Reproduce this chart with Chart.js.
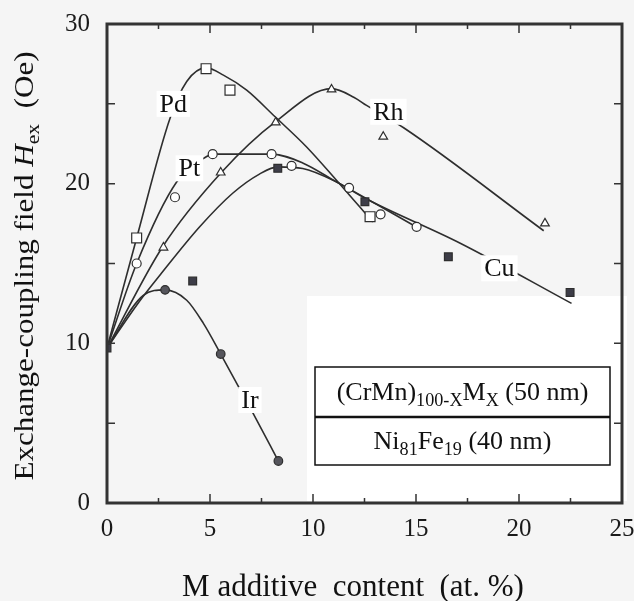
<!DOCTYPE html>
<html><head><meta charset="utf-8">
<script src="https://cdn.jsdelivr.net/npm/chart.js@4"></script>
<style>html,body{margin:0;padding:0;background:#f5f5f5;}</style>
</head><body>
<canvas id="c" width="634" height="601"></canvas>
<script>
// ---- tick data ----
const xTickValues = [0, 5, 10, 15, 20, 25];
const yTickValues = [0, 10, 20, 30];
const xMinorMarks = [2.5, 7.5, 12.5, 17.5, 22.5];
const xMajorMarks = [5, 10, 15, 20];
const yMarks = [5, 10, 15, 20, 25];

// ---- measured points (markers) ----
const pdX = [1.44, 4.81, 5.97, 12.77];
const pdY = [16.6, 27.2, 25.86, 17.93];
const ptX = [1.44, 3.3, 5.13, 7.99, 8.96, 11.75, 13.28, 15.03];
const ptY = [15.0, 19.15, 21.85, 21.85, 21.12, 19.74, 18.08, 17.3];
const rhX = [2.74, 5.52, 8.19, 10.9, 13.41, 21.26];
const rhY = [16.0, 20.7, 23.84, 25.9, 22.94, 17.51];
const cuX = [0, 4.16, 8.29, 12.52, 16.57, 22.48];
const cuY = [9.7, 13.9, 20.96, 18.87, 15.42, 13.19];
const irX = [2.82, 5.52, 8.32];
const irY = [13.35, 9.33, 2.63];

// ---- fitted guide curves ----
const pdCurveX = [0, 1.44, 3.06, 3.87, 4.81, 5.65, 6.78, 8.16, 9.69, 11.15, 12.9];
const pdCurveY = [9.7, 16.6, 24.1, 26.4, 27.25, 26.8, 25.86, 24.19, 22.3, 20.2, 17.6];
const ptCurveX = [0, 1.44, 3.38, 4.84, 5.13, 8.0, 9.5, 11.15, 12.0, 15.0];
const ptCurveY = [9.7, 15.0, 20.1, 21.7, 21.85, 21.85, 21.3, 20.1, 19.5, 17.3];
const rhCurveX = [0, 2.7, 5.55, 8.2, 10.9, 12.0, 12.6, 14.4, 21.2];
const rhCurveY = [9.7, 16.05, 20.7, 23.9, 25.95, 25.4, 24.9, 23.5, 17.05];
const cuCurveX = [0, 1.5, 2.65, 4.5, 6.1, 7.4, 8.3, 9.5, 11.15, 12.5, 17.1, 22.55];
const cuCurveY = [9.7, 12.5, 14.4, 17.3, 19.4, 20.6, 21.05, 20.95, 20.1, 19.1, 16.3, 12.5];
const irCurveX = [0, 1.76, 2.82, 3.87, 4.68, 5.52, 7.1, 8.32];
const irCurveY = [9.7, 13.0, 13.35, 12.7, 11.25, 9.33, 5.6, 2.63];

// ---- series labels ----
const seriesNames = ['Pd', 'Pt', 'Rh', 'Cu', 'Ir'];
const labelX = [3.22, 4.0, 13.66, 19.05, 6.94];
const labelY = [25.0, 20.96, 24.5, 14.7, 6.45];

const pts = (xs, ys) => xs.map((x, i) => ({x, y: ys[i]}));
const INK = '#2e2e2e';
const SERIF = '"Liberation Serif", "DejaVu Serif", serif';

function curve(xs, ys) {
  return {type: 'line', data: pts(xs, ys), borderColor: INK, borderWidth: 1.6,
    pointRadius: 0, cubicInterpolationMode: 'monotone', fill: false, order: 2};
}
function markers(xs, ys, style, r, fillC) {
  return {type: 'scatter', data: pts(xs, ys), pointStyle: style, pointRadius: r,
    pointBackgroundColor: fillC, pointBorderColor: INK, pointBorderWidth: 1.2,
    showLine: false, order: 1};
}

function drawRich(ctx, parts, cx, by, size) {
  let total = 0;
  const m = parts.map(p => {
    const fs = p.sub ? size * 0.7 : size;
    const f = (p.italic ? 'italic ' : '') + fs + 'px ' + SERIF;
    ctx.font = f;
    const w = ctx.measureText(p.t).width;
    total += w;
    return {f, w, p, fs};
  });
  let x = cx - total / 2;
  ctx.textAlign = 'left';
  ctx.textBaseline = 'alphabetic';
  m.forEach(o => {
    ctx.font = o.f;
    ctx.fillText(o.p.t, x, by + (o.p.sub ? size * 0.22 : 0));
    x += o.w;
  });
}

const zeroPad = s => { s.paddingTop = 0; s.paddingBottom = 0; s.paddingLeft = 0; s.paddingRight = 0; };

const decor = {
  id: 'decor',
  beforeDraw(chart) {
    const {ctx, chartArea: a} = chart;
    ctx.save();
    ctx.fillStyle = '#ffffff';
    ctx.fillRect(a.left + 200, a.top + 272, a.right - a.left - 195, a.bottom - a.top - 274);
    ctx.restore();
  },
  afterDatasetsDraw(chart) {
    const {ctx, chartArea: a, scales: {x, y}} = chart;
    ctx.save();
    // series labels
    ctx.font = '26px ' + SERIF;
    ctx.textAlign = 'center';
    ctx.textBaseline = 'middle';
    seriesNames.forEach((t, i) => {
      const px = x.getPixelForValue(labelX[i]);
      const py = y.getPixelForValue(labelY[i]);
      const w = ctx.measureText(t).width;
      ctx.fillStyle = '#ffffff';
      ctx.fillRect(px - w / 2 - 3, py - 13, w + 6, 26);
      ctx.fillStyle = '#111';
      ctx.fillText(t, px, py + 1);
    });
    // frame
    ctx.strokeStyle = '#333';
    ctx.lineWidth = 3;
    ctx.strokeRect(a.left, a.top, a.right - a.left, a.bottom - a.top);
    // inward ticks
    ctx.lineWidth = 1.5;
    ctx.beginPath();
    const xt = (v, len) => {
      const px = x.getPixelForValue(v);
      ctx.moveTo(px, a.bottom); ctx.lineTo(px, a.bottom - len);
      ctx.moveTo(px, a.top); ctx.lineTo(px, a.top + len);
    };
    xMajorMarks.forEach(v => xt(v, 9));
    xMinorMarks.forEach(v => xt(v, 5));
    yMarks.forEach(v => {
      const py = y.getPixelForValue(v);
      ctx.moveTo(a.left, py); ctx.lineTo(a.left + 8, py);
      ctx.moveTo(a.right, py); ctx.lineTo(a.right - 8, py);
    });
    ctx.stroke();
    // structure legend box
    const bl = a.left + 208, br = a.right - 12, bt = a.top + 343, bm = a.top + 393, bb = a.top + 441;
    ctx.fillStyle = '#ffffff';
    ctx.fillRect(bl, bt, br - bl, bb - bt);
    ctx.strokeStyle = '#111';
    ctx.lineWidth = 1.5;
    ctx.strokeRect(bl, bt, br - bl, bb - bt);
    ctx.lineWidth = 2.5;
    ctx.beginPath(); ctx.moveTo(bl, bm); ctx.lineTo(br, bm); ctx.stroke();
    ctx.fillStyle = '#111';
    const cx = (bl + br) / 2;
    drawRich(ctx, [{t: '(CrMn)'}, {t: '100-X', sub: true}, {t: 'M'}, {t: 'X', sub: true}, {t: ' (50 nm)'}], cx, bt + 33, 26);
    drawRich(ctx, [{t: 'Ni'}, {t: '81', sub: true}, {t: 'Fe'}, {t: '19', sub: true}, {t: ' (40 nm)'}], cx, bm + 32, 26);
    // axis titles
    ctx.fillStyle = '#111';
    drawRich(ctx, [{t: 'M additive  content  (at. %)'}], 353, 596, 31);
    ctx.translate(33, 266);
    ctx.rotate(-Math.PI / 2);
    ctx.scale(1.15, 1);
    drawRich(ctx, [{t: 'Exchange-coupling field '}, {t: 'H', italic: true}, {t: 'ex', sub: true}, {t: '  (Oe)'}], 0, 0, 27);
    ctx.restore();
  }
};

new Chart(document.getElementById('c'), {
  type: 'scatter',
  data: {datasets: [
    curve(pdCurveX, pdCurveY), curve(ptCurveX, ptCurveY), curve(rhCurveX, rhCurveY),
    curve(cuCurveX, cuCurveY), curve(irCurveX, irCurveY),
    markers(pdX, pdY, 'rect', 7, '#ffffff'),
    markers(ptX, ptY, 'circle', 4.5, '#ffffff'),
    markers(rhX, rhY, 'triangle', 5, '#ffffff'),
    markers(cuX, cuY, 'rect', 5.5, '#3d3d48'),
    markers(irX, irY, 'circle', 4.3, '#55555c')
  ]},
  options: {
    responsive: false, animation: false, devicePixelRatio: 1,
    layout: {padding: {top: 24, right: 12, left: 0, bottom: 0}},
    plugins: {legend: {display: false}, tooltip: {enabled: false}, title: {display: false}},
    scales: {
      x: {type: 'linear', min: 0, max: 25,
        afterBuildTicks: s => { s.ticks = xTickValues.map(v => ({value: v})); },
        afterFit: s => { s.height = 98; zeroPad(s); },
        grid: {display: false, drawTicks: false}, border: {display: false},
        ticks: {font: {family: SERIF, size: 25}, color: '#1a1a1a', padding: 11, maxRotation: 0}},
      y: {min: 0, max: 30,
        afterBuildTicks: s => { s.ticks = yTickValues.map(v => ({value: v})); },
        afterFit: s => { s.width = 107; zeroPad(s); },
        grid: {display: false, drawTicks: false}, border: {display: false},
        ticks: {font: {family: SERIF, size: 25}, color: '#1a1a1a', padding: 17}}
    }
  },
  plugins: [decor]
});
</script>
</body></html>
